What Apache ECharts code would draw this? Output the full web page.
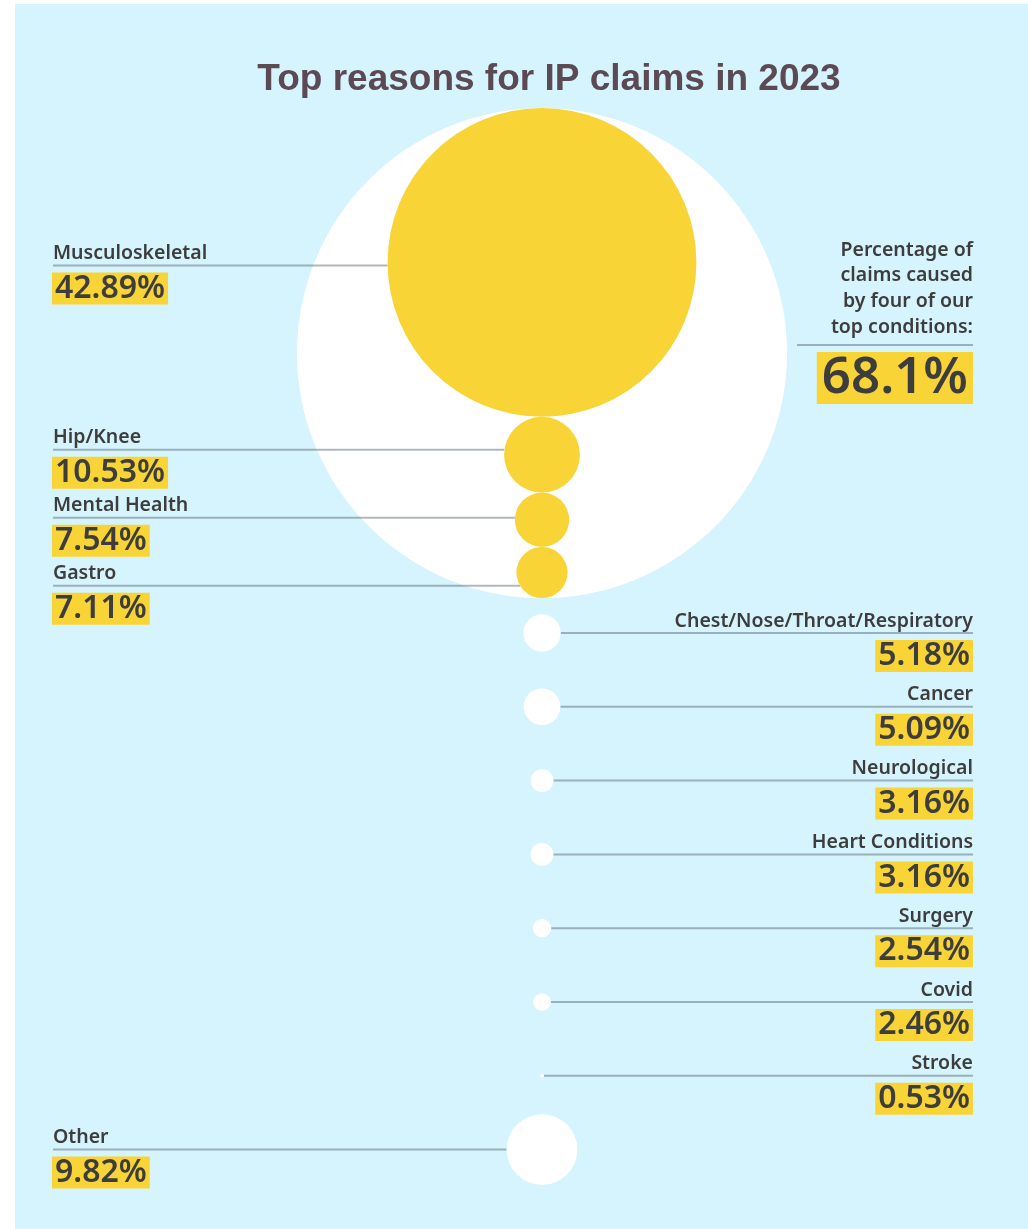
<!DOCTYPE html>
<html>
<head>
<meta charset="utf-8">
<script src="https://cdn.jsdelivr.net/npm/echarts@6/dist/echarts.min.js"></script>
<style>
  html, body { margin: 0; padding: 0; background: #ffffff; }
  #chart { width: 1028px; height: 1229px; }
</style>
</head>
<body>
<div id="chart"></div>
<script>
// ---- Data ----
const categories = ['Musculoskeletal', 'Hip/Knee', 'Mental Health', 'Gastro',
  'Chest/Nose/Throat/Respiratory', 'Cancer', 'Neurological', 'Heart Conditions',
  'Surgery', 'Covid', 'Stroke', 'Other'];
const values = [42.89, 10.53, 7.54, 7.11, 5.18, 5.09, 3.16, 3.16, 2.54, 2.46, 0.53, 9.82];
const topConditionCount = 4;
const titleText = 'Top reasons for IP claims in 2023';
const noteLines = ['Percentage of', 'claims caused', 'by four of our', 'top conditions:'];

// ---- Layout / style constants ----
const W = 1028, H = 1229;
const CX = 542;           // circle column
const R_PER = 3.6;        // radius in px per percentage point
const STACK_TOP = 108;
const REST_START = 633, REST_STEP = 73.8;
const LEFT_X = 53, RIGHT_X = 973;
const YELLOW = '#f8d436', TEXT = '#3d3d3d', LINE = 'rgba(55,65,75,0.38)';
const FONT = '"Noto Sans", "Open Sans", sans-serif';

const topTotal = values.slice(0, topConditionCount).reduce((a, b) => a + b, 0);

// centres
const centers = [];
let cursor = STACK_TOP;
values.forEach((v, i) => {
  if (i < topConditionCount) {
    const r = v * R_PER;
    centers.push(cursor + r);
    cursor += 2 * r;
  } else {
    centers.push(REST_START + (i - topConditionCount) * REST_STEP);
  }
});
// sides & label y (labels of the stacked group spread so they do not overlap)
const isLeft = categories.map((c, i) => i < topConditionCount || c === 'Other');
const labelY = [];
let prevLeft = -1e9;
centers.forEach((cy, i) => {
  if (i < topConditionCount) {
    const y = i === 0 ? cy + 3 : Math.max(cy - 5, prevLeft + 68);
    labelY.push(y); prevLeft = y;
  } else labelY.push(cy);
});

const items = values.map((v, i) => [CX, centers[i], v, labelY[i], isLeft[i] ? 0 : 1, i]);

const chart = echarts.init(document.getElementById('chart'), null, { renderer: 'canvas' });

chart.setOption({
  animation: false,
  backgroundColor: '#ffffff',
  grid: { left: 0, right: 0, top: 0, bottom: 0 },
  xAxis: { type: 'value', min: 0, max: W, show: false },
  yAxis: { type: 'value', min: 0, max: H, inverse: true, show: false },
  graphic: [
    { type: 'rect', shape: { x: 15, y: 4, width: W - 15, height: H - 4 }, style: { fill: '#d6f4fd' }, z: -10 },
    { type: 'text', x: 549, y: 80, z: 10,
      style: { text: titleText, fill: '#5b4953', fontFamily: '"Liberation Sans", Arial, sans-serif',
        fontWeight: 'bold', fontSize: 37, align: 'center', verticalAlign: 'middle' } }
  ],
  series: [
    { // big white circle behind top four
      type: 'scatter', z: 1, silent: true,
      data: [[CX, STACK_TOP + topTotal * R_PER, topTotal]],
      symbolSize: d => d[2] * 2 * R_PER,
      itemStyle: { color: '#ffffff', opacity: 1 }
    },
    { // connector lines
      type: 'custom', z: 2, silent: true,
      data: items,
      renderItem: (params, api) => {
        const c = api.coord([api.value(0), api.value(1)]);
        const ly = api.coord([0, api.value(3)])[1];
        const r = api.value(2) * R_PER;
        const dy = ly - c[1];
        const dx = Math.abs(dy) < r ? Math.sqrt(r * r - dy * dy) : 0;
        const left = api.value(4) === 0;
        const x1 = left ? LEFT_X : c[0] + dx;
        const x2 = left ? c[0] - dx : RIGHT_X;
        return { type: 'line', shape: { x1, y1: ly, x2, y2: ly }, style: { stroke: LINE, lineWidth: 2 } };
      }
    },
    { // condition circles
      type: 'scatter', z: 3, silent: true,
      data: items.map(d => ({ value: d, itemStyle: { color: d[5] < topConditionCount ? YELLOW : '#ffffff', opacity: 1 } })),
      symbolSize: d => d[2] * 2 * R_PER
    },
    { // labels
      type: 'custom', z: 4, silent: true,
      data: items,
      renderItem: (params, api) => {
        const idx = api.value(5);
        const ly = api.coord([0, api.value(3)])[1];
        const left = api.value(4) === 0;
        const x = left ? LEFT_X : RIGHT_X;
        const align = left ? 'left' : 'right';
        return {
          type: 'group',
          children: [
            { type: 'text', x: x, y: ly - 2,
              style: { text: categories[idx], fill: TEXT, fontFamily: FONT, fontWeight: 600, fontSize: 19.5,
                align, verticalAlign: 'bottom' } },
            { type: 'text', x: left ? x - 1 : x, y: ly + 7,
              style: { text: values[idx].toFixed(2) + '%', fill: TEXT, fontFamily: FONT, fontWeight: 600, fontSize: 32,
                align, verticalAlign: 'top', backgroundColor: YELLOW, padding: [0, 3, 0, 3], lineHeight: 32 } }
          ]
        };
      }
    },
    { // note & total on the right
      type: 'custom', z: 4, silent: true,
      data: [[RIGHT_X, 345, topTotal]],
      renderItem: (params, api) => {
        const p = api.coord([api.value(0), api.value(1)]);
        const children = noteLines.map((t, k) => ({
          type: 'text', x: p[0], y: 250 + k * 25.7,
          style: { text: t, fill: TEXT, fontFamily: FONT, fontWeight: 600, fontSize: 19.5, align: 'right', verticalAlign: 'middle' }
        }));
        children.push({ type: 'line', shape: { x1: 797, y1: p[1], x2: p[0], y2: p[1] }, style: { stroke: LINE, lineWidth: 2 } });
        children.push({ type: 'text', x: p[0], y: p[1] + 7,
          style: { text: api.value(2).toFixed(1) + '%', fill: TEXT, fontFamily: FONT, fontWeight: 600, fontSize: 51,
            align: 'right', verticalAlign: 'top', backgroundColor: YELLOW, padding: [0, 5, 0, 5], lineHeight: 52 } });
        return { type: 'group', children };
      }
    }
  ]
});
</script>
</body>
</html>
